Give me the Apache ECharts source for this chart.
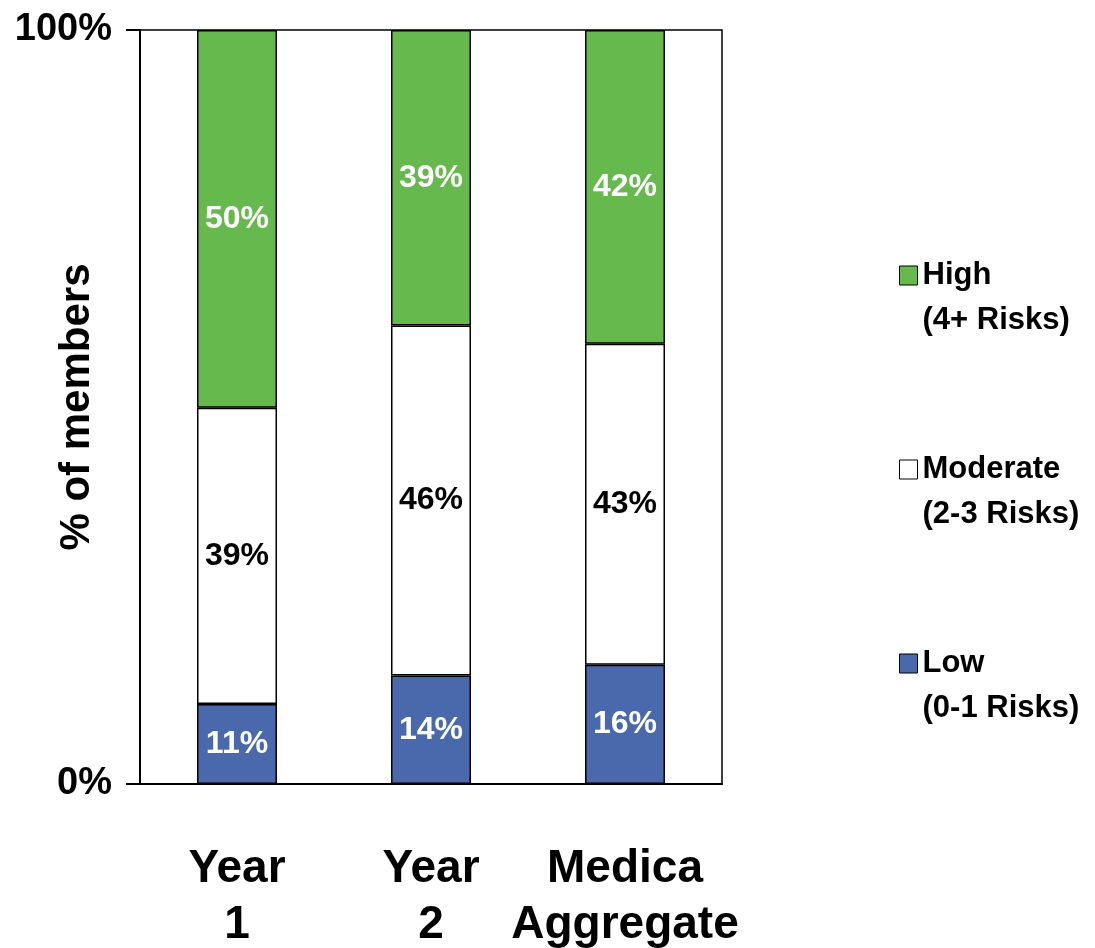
<!DOCTYPE html>
<html>
<head>
<meta charset="utf-8">
<script src="https://cdn.jsdelivr.net/npm/echarts@6/dist/echarts.min.js"></script>
<style>
  html, body { margin: 0; padding: 0; background: #fff; }
  #chart { width: 1095px; height: 948px; }
</style>
</head>
<body>
<div id="chart"></div>
<script>
// Risk-level distribution of members, stacked to 100%
const categories = ['Year\n1', 'Year\n2', 'Medica\nAggregate'];
const lowRisk = [10.6, 14.4, 15.8];
const moderateRisk = [39.3, 46.4, 42.6];
const highRisk = [50.1, 39.2, 41.6];
const riskNotes = { 'High': '(4+ Risks)', 'Moderate': '(2-3 Risks)', 'Low': '(0-1 Risks)' };

const FONT = '"Liberation Sans", Arial, sans-serif';

function pct(p) { return Math.round(p.value) + '%'; }

function barSeries(name, data, color, labelColor) {
  return {
    name: name,
    type: 'bar',
    stack: 'total',
    barWidth: 80,
    data: data,
    itemStyle: { color: color, borderColor: '#000', borderWidth: 1.5 },
    label: {
      show: true,
      position: 'inside',
      formatter: pct,
      color: labelColor,
      fontFamily: FONT,
      fontWeight: 'bold',
      fontSize: 32
    },
    emphasis: { disabled: true }
  };
}

const chart = echarts.init(document.getElementById('chart'), null, { renderer: 'canvas' });
chart.setOption({
  animation: false,
  grid: {
    left: 140, right: 373, top: 30, bottom: 164,
    outerBoundsMode: 'none',
    containLabel: false,
    show: true, borderColor: '#000', borderWidth: 1.5, backgroundColor: 'transparent'
  },
  legend: {
    orient: 'vertical',
    left: 894,
    top: 203,
    data: ['High', 'Moderate', 'Low'],
    icon: 'rect',
    itemWidth: 18,
    itemHeight: 19,
    itemGap: 59,
    selectedMode: false,
    itemStyle: { borderColor: '#000', borderWidth: 1 },
    // blank first line keeps the swatch level with the level name
    formatter: function (name) { return ' \n' + name + '\n' + riskNotes[name]; },
    textStyle: {
      fontFamily: FONT,
      fontWeight: 'bold',
      fontSize: 31,
      lineHeight: 45,
      color: '#000'
    }
  },
  xAxis: {
    type: 'category',
    data: categories,
    axisLine: { lineStyle: { color: '#000', width: 2 } },
    axisTick: { show: false },
    axisLabel: {
      color: '#000',
      fontFamily: FONT,
      fontWeight: 'bold',
      fontSize: 46,
      lineHeight: 56,
      margin: 57,
      interval: 0
    }
  },
  yAxis: {
    type: 'value',
    min: 0,
    max: 100,
    interval: 100,
    name: '% of members',
    nameLocation: 'middle',
    nameRotate: 90,
    nameGap: 42,
    nameMoveOverlap: false,
    nameTextStyle: {
      color: '#000',
      fontFamily: FONT,
      fontWeight: 'bold',
      fontSize: 42
    },
    axisLine: { show: true, lineStyle: { color: '#000', width: 2 } },
    axisTick: { show: true, length: 14, lineStyle: { color: '#000', width: 2 } },
    splitLine: { show: false },
    axisLabel: {
      color: '#000',
      fontFamily: FONT,
      fontWeight: 'bold',
      fontSize: 38,
      margin: 28,
      formatter: '{value}%'
    }
  },
  series: [
    barSeries('Low', lowRisk, '#4A69AD', '#fff'),
    barSeries('Moderate', moderateRisk, '#ffffff', '#000'),
    barSeries('High', highRisk, '#66B94C', '#fff')
  ]
});
</script>
</body>
</html>
